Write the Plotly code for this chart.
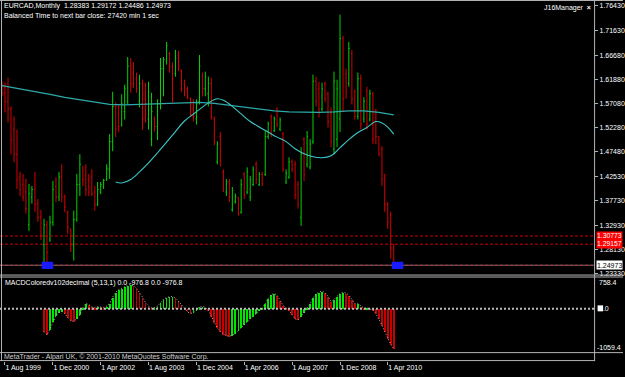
import pandas as pd
import plotly.graph_objects as go

W, H = 625, 377

# ---------------- data ----------------
bar_dates = pd.date_range("1999-07-01", periods=132, freq="MS")
opens = [1.600, 1.592, 1.575, 1.560, 1.520, 1.470, 1.425, 1.410, 1.395, 1.330, 1.385, 1.400,
         1.372, 1.345, 1.290, 1.330, 1.300, 1.335, 1.405, 1.385, 1.425, 1.385, 1.355, 1.322,
         1.290, 1.340, 1.410, 1.446, 1.430, 1.420, 1.425, 1.395, 1.370, 1.395, 1.405, 1.420,
         1.440, 1.495, 1.565, 1.550, 1.528, 1.555, 1.575, 1.645, 1.630, 1.620, 1.575, 1.610,
         1.580, 1.540, 1.500, 1.540, 1.525, 1.570, 1.640, 1.655, 1.670, 1.645, 1.630, 1.665,
         1.635, 1.610, 1.600, 1.580, 1.560, 1.540, 1.575, 1.625, 1.600, 1.590, 1.610, 1.540,
         1.455, 1.505, 1.435, 1.395, 1.415, 1.360, 1.376, 1.384, 1.355, 1.430, 1.395, 1.385,
         1.410, 1.450, 1.410, 1.430, 1.430, 1.505, 1.545, 1.517, 1.560, 1.520, 1.510, 1.415,
         1.425, 1.455, 1.450, 1.410, 1.345, 1.500, 1.450, 1.445, 1.495, 1.615, 1.600, 1.560,
         1.610, 1.590, 1.550, 1.480, 1.500, 1.540, 1.700, 1.630, 1.610, 1.670, 1.595, 1.545,
         1.620, 1.540, 1.595, 1.540, 1.590, 1.555, 1.505, 1.480, 1.430, 1.372, 1.350, 1.28383]
highs = [1.615, 1.612, 1.622, 1.565, 1.545, 1.519, 1.435, 1.431, 1.421, 1.411, 1.407, 1.435,
         1.381, 1.360, 1.342, 1.338, 1.348, 1.417, 1.425, 1.435, 1.450, 1.390, 1.358, 1.322,
         1.358, 1.431, 1.470, 1.446, 1.450, 1.431, 1.440, 1.407, 1.415, 1.415, 1.421, 1.450,
         1.510, 1.594, 1.573, 1.569, 1.589, 1.608, 1.663, 1.661, 1.653, 1.632, 1.628, 1.618,
         1.612, 1.614, 1.592, 1.545, 1.579, 1.661, 1.663, 1.693, 1.673, 1.652, 1.677, 1.675,
         1.638, 1.618, 1.604, 1.583, 1.579, 1.579, 1.667, 1.632, 1.634, 1.624, 1.622, 1.545,
         1.496, 1.514, 1.440, 1.421, 1.421, 1.405, 1.392, 1.385, 1.421, 1.435, 1.444, 1.427,
         1.446, 1.456, 1.435, 1.435, 1.516, 1.535, 1.549, 1.545, 1.563, 1.543, 1.514, 1.440,
         1.464, 1.460, 1.456, 1.417, 1.484, 1.504, 1.516, 1.500, 1.628, 1.624, 1.614, 1.612,
         1.614, 1.594, 1.563, 1.634, 1.618, 1.747, 1.705, 1.640, 1.693, 1.677, 1.598, 1.632,
         1.628, 1.583, 1.604, 1.598, 1.594, 1.560, 1.506, 1.486, 1.431, 1.375, 1.356, 1.29172]
lows = [1.585, 1.553, 1.533, 1.470, 1.454, 1.401, 1.387, 1.377, 1.352, 1.318, 1.372, 1.356,
        1.336, 1.300, 1.249, 1.249, 1.296, 1.328, 1.375, 1.377, 1.375, 1.355, 1.312, 1.276,
        1.259, 1.336, 1.387, 1.407, 1.387, 1.387, 1.387, 1.358, 1.367, 1.391, 1.401, 1.417,
        1.421, 1.476, 1.504, 1.514, 1.525, 1.539, 1.569, 1.592, 1.602, 1.592, 1.563, 1.519,
        1.533, 1.519, 1.486, 1.515, 1.498, 1.559, 1.585, 1.648, 1.632, 1.573, 1.624, 1.635,
        1.594, 1.585, 1.579, 1.545, 1.535, 1.529, 1.569, 1.585, 1.585, 1.565, 1.539, 1.488,
        1.450, 1.446, 1.395, 1.387, 1.375, 1.356, 1.372, 1.348, 1.352, 1.381, 1.391, 1.377,
        1.407, 1.411, 1.407, 1.407, 1.427, 1.500, 1.504, 1.514, 1.524, 1.516, 1.435, 1.411,
        1.421, 1.435, 1.381, 1.362, 1.328, 1.417, 1.444, 1.440, 1.490, 1.565, 1.543, 1.555,
        1.573, 1.523, 1.484, 1.470, 1.484, 1.514, 1.555, 1.580, 1.604, 1.569, 1.539, 1.539,
        1.519, 1.533, 1.519, 1.535, 1.490, 1.490, 1.466, 1.407, 1.356, 1.322, 1.263, 1.24486]
closes = [1.592, 1.575, 1.560, 1.498, 1.470, 1.420, 1.400, 1.385, 1.362, 1.392, 1.400, 1.370,
          1.345, 1.310, 1.330, 1.275, 1.335, 1.400, 1.385, 1.425, 1.385, 1.365, 1.325, 1.290,
          1.340, 1.410, 1.450, 1.420, 1.400, 1.395, 1.392, 1.370, 1.400, 1.410, 1.418, 1.442,
          1.495, 1.565, 1.520, 1.525, 1.570, 1.600, 1.645, 1.610, 1.610, 1.600, 1.610, 1.540,
          1.550, 1.570, 1.555, 1.525, 1.570, 1.640, 1.658, 1.685, 1.645, 1.590, 1.660, 1.645,
          1.600, 1.595, 1.585, 1.550, 1.545, 1.570, 1.645, 1.600, 1.625, 1.610, 1.545, 1.495,
          1.490, 1.455, 1.400, 1.415, 1.385, 1.398, 1.386, 1.352, 1.410, 1.390, 1.435, 1.420,
          1.440, 1.420, 1.430, 1.412, 1.505, 1.530, 1.510, 1.540, 1.530, 1.538, 1.440, 1.432,
          1.455, 1.440, 1.390, 1.370, 1.470, 1.430, 1.505, 1.490, 1.615, 1.575, 1.560, 1.600,
          1.580, 1.535, 1.495, 1.615, 1.600, 1.700, 1.580, 1.595, 1.680, 1.580, 1.545, 1.620,
          1.530, 1.575, 1.530, 1.590, 1.500, 1.505, 1.470, 1.420, 1.370, 1.335, 1.284, 1.24973]

macd_dates = pd.date_range("2000-09-01", periods=118, freq="MS")
macd_values = [-560, -640, -500, -320, -170, -90, -60, -120, -220, -290, -308, -250,
               -150, 20, 128, 100, 40, 30, 50, 40, 30, 60, 130, 280,
               400, 460, 500, 540, 570, 589, 560, 500, 400, 280, 150, 60,
               20, 30, 60, 150, 230, 270, 290, 298, 260, 190, 100, 10,
               -80, -114, -100, -30, 40, 56, 30, -40, -180, -330, -470, -560,
               -620, -660, -671, -650, -600, -530, -460, -390, -320, -250, -180, -110,
               -50, 20, 120, 250, 340, 371, 330, 200, 80, 20, -40, -150,
               -250, -276, -200, -100, 20, 120, 260, 360, 400, 427, 390, 300,
               177, 220, 300, 370, 395, 380, 330, 230, 120, 128, 60, 10,
               20, -10, -30, -120, -250, -400, -560, -720, -870, -976.8]

ma_long_dates = ["1999-07-01", "2000-01-01", "2000-06-01", "2000-11-01", "2001-04-01",
                 "2001-09-01", "2002-02-01", "2002-07-01", "2002-12-01", "2003-05-01",
                 "2003-10-01", "2004-03-01", "2004-08-01", "2005-01-01", "2005-06-01",
                 "2005-11-01", "2006-04-01", "2006-09-01", "2007-02-01", "2007-07-01",
                 "2007-12-01", "2008-05-01", "2008-10-01", "2009-03-01", "2009-08-01",
                 "2010-01-01", "2010-06-01"]
ma_long_values = [1.606, 1.600, 1.594, 1.589, 1.583, 1.578, 1.573, 1.569, 1.568, 1.569,
                  1.570, 1.571, 1.573, 1.573, 1.571, 1.567, 1.563, 1.559, 1.556, 1.554,
                  1.553, 1.553, 1.554, 1.556, 1.556, 1.553, 1.548]

ma_short_dates = ["2002-09-01", "2002-11-01", "2003-02-01", "2003-05-01", "2003-08-01",
                  "2003-11-01", "2004-02-01", "2004-05-01", "2004-08-01", "2004-11-01",
                  "2005-01-01", "2005-04-01", "2005-07-01", "2005-09-01", "2005-12-01",
                  "2006-03-01", "2006-06-01", "2006-09-01", "2006-12-01", "2007-03-01",
                  "2007-06-01", "2007-09-01", "2007-12-01", "2008-03-01", "2008-06-01",
                  "2008-09-01", "2008-12-01", "2009-03-01", "2009-06-01", "2009-09-01",
                  "2009-12-01", "2010-02-01", "2010-04-01", "2010-06-01"]
ma_short_values = [1.415, 1.413, 1.420, 1.435, 1.453, 1.473, 1.494, 1.515, 1.536, 1.550,
                   1.559, 1.572, 1.580, 1.577, 1.565, 1.550, 1.535, 1.524, 1.514, 1.504,
                   1.495, 1.481, 1.471, 1.465, 1.463, 1.467, 1.483, 1.499, 1.513, 1.523,
                   1.535, 1.532, 1.524, 1.510]

price_ticks = [1.76430, 1.71630, 1.66680, 1.61880, 1.57080, 1.52280,
               1.47480, 1.42530, 1.37730, 1.32930, 1.28130, 1.23330]
price_tick_labels = ["%.5f" % v for v in price_ticks]
time_ticks = pd.date_range("1999-08-01", "2010-04-01", freq="16MS")
time_tick_labels = ["1 " + d.strftime("%b %Y") for d in time_ticks]

level_prices = [1.30773, 1.29157]
bid_price = 1.24973
low_mark_dates = ["2000-10-06", "2010-07-10"]
low_mark_prices = [1.2490, 1.2490]
macd_scale = [758.4, 0.0, -1059.4]

header1 = "EURCAD,Monthly  1.28383 1.29172 1.24486 1.24973"
header2 = "Balanced Time to next bar close: 27420 min 1 sec"
macd_title = "MACDColoredv102decimal (5,13,1) 0.0 -976.8 0.0 -976.8"
copyright_text = "MetaTrader - Alpari UK, \u00a9 2001-2010 MetaQuotes Software Corp."

# ---------------- helpers ----------------
def px(x):
    return x / W

def py(y):
    return 1 - y / H

FONT = "Liberation Sans, Arial, sans-serif"
GRAY = "#b4b4b4"
day_per_px = 30.4375 / 3.0
t0 = pd.Timestamp("1999-08-01")
x_start = t0 - pd.Timedelta(days=5 * day_per_px)
x_end = x_start + pd.Timedelta(days=596 * day_per_px)

fig = go.Figure()

fig.add_trace(go.Ohlc(
    x=bar_dates, open=opens, high=highs, low=lows, close=closes,
    increasing=dict(line=dict(color="#00d400", width=1)),
    decreasing=dict(line=dict(color="#d80000", width=1)),
    tickwidth=0.35, hoverinfo="skip", xaxis="x", yaxis="y"))

fig.add_trace(go.Scatter(x=ma_long_dates, y=ma_long_values, mode="lines",
                         line=dict(color="#2fa8a8", width=1.3), hoverinfo="skip"))
fig.add_trace(go.Scatter(x=ma_short_dates, y=ma_short_values, mode="lines",
                         line=dict(color="#3cc6c6", width=1.1, shape="spline"), hoverinfo="skip"))

macd_colors = []
for i, v in enumerate(macd_values):
    prev = macd_values[i - 1] if i else float("inf")
    macd_colors.append("#00e600" if v >= prev else "#c80000")

fig.add_trace(go.Bar(x=macd_dates, y=macd_values, marker=dict(color=macd_colors, line=dict(width=0)),
                     width=day_per_px * 86400000 * 0.8, xaxis="x", yaxis="y2", hoverinfo="skip"))
fig.add_trace(go.Scatter(x=macd_dates, y=macd_values, mode="lines",
                         line=dict(color="#b8b8b8", width=1, dash="1px,2px"),
                         xaxis="x", yaxis="y2", hoverinfo="skip"))

shapes = []
# horizontal level lines
for p in level_prices:
    shapes.append(dict(type="line", xref="paper", yref="y", x0=0, x1=px(596), y0=p, y1=p,
                       line=dict(color="#d00000", width=1, dash="3px,2px")))
shapes.append(dict(type="line", xref="paper", yref="y", x0=0, x1=px(596), y0=bid_price, y1=bid_price,
                   line=dict(color="#707070", width=1)))
shapes.append(dict(type="line", xref="paper", yref="y", x0=0, x1=px(596), y0=bid_price, y1=bid_price,
                   line=dict(color="#c03040", width=1, dash="3px,2px")))
# blue low markers
for d, p in zip(low_mark_dates, low_mark_prices):
    dt = pd.Timestamp(d)
    shapes.append(dict(type="rect", xref="x", yref="y",
                       x0=dt - pd.Timedelta(days=58), x1=dt + pd.Timedelta(days=58),
                       y0=p - 0.0065, y1=p + 0.0075, fillcolor="#1a1aff", line=dict(width=0)))
# MACD zero line
shapes.append(dict(type="line", xref="paper", yref="y2", x0=0, x1=px(596), y0=0, y1=0,
                   line=dict(color="#bdbdbd", width=2, dash="2px,2px")))
# frame
def hl(y, x0=0, x1=W, color=GRAY):
    shapes.append(dict(type="line", xref="paper", yref="paper", x0=px(x0), x1=px(x1),
                       y0=py(y), y1=py(y), line=dict(color=color, width=1)))
def vl(x, y0, y1, color=GRAY):
    shapes.append(dict(type="line", xref="paper", yref="paper", x0=px(x), x1=px(x),
                       y0=py(y0), y1=py(y1), line=dict(color=color, width=1)))
hl(0.5)
hl(276.5)
hl(278.5)
hl(354.5)
hl(362.5, 0, 597)
vl(1.5, 0, 363)
vl(596.5, 0, 363)
# white blob over zero label
shapes.append(dict(type="rect", xref="paper", yref="paper", x0=px(599.5), x1=px(605),
                   y0=py(313), y1=py(307), fillcolor="#ffffff", line=dict(width=0)))

ann = []
def text(x, y, s, color="#ffffff", xanchor="left", yanchor="middle", size=7, bg=None,
         yref="paper", height=None):
    d = dict(x=px(x), y=(py(y) if yref == "paper" else y), xref="paper", yref=yref, text=s,
             showarrow=False, xanchor=xanchor, yanchor=yanchor,
             font=dict(family=FONT, size=size, color=color), borderpad=0)
    if bg:
        d["bgcolor"] = bg
    if height:
        d["height"] = height
    ann.append(d)

text(3, 6.5, header1)
text(3, 15.5, header2)
text(594, 8, "J16Manager  <b>\u00d7</b>", xanchor="right")
text(4, 285, macd_title)
text(3, 358.5, copyright_text, color="#d0d0d0")
text(598, level_prices[0], "%.5f" % level_prices[0], bg="#ff0000", yref="y", size=6.8, height=7.5)
text(598, level_prices[1], "%.5f" % level_prices[1], bg="#ff0000", yref="y", size=6.8, height=7.5)
text(598, bid_price, "%.5f" % bid_price, color="#000000", bg="#ffffff", yref="y", height=8)
text(600, macd_scale[0], "%.1f" % macd_scale[0], yref="y2", yanchor="top")
text(600, macd_scale[1], "%.1f" % macd_scale[1], yref="y2")
text(598, macd_scale[2], "%.1f" % macd_scale[2], yref="y2", yanchor="bottom")

fig.update_layout(
    width=W, height=H, autosize=False,
    margin=dict(l=0, r=0, t=0, b=0),
    paper_bgcolor="#000000", plot_bgcolor="#000000",
    showlegend=False, bargap=0,
    shapes=shapes, annotations=ann,
    xaxis=dict(type="date", domain=[0, px(596)], range=[x_start, x_end],
               anchor="free", position=py(363),
               tickvals=time_ticks, ticktext=time_tick_labels,
               ticks="outside", ticklen=3, tickcolor=GRAY, ticklabelposition="outside right",
               tickfont=dict(family=FONT, size=7, color="#ffffff"),
               showgrid=False, zeroline=False, showline=False,
               rangeslider=dict(visible=False)),
    yaxis=dict(domain=[py(276), 1], range=[1.2313, 1.7761], side="right", anchor="x",
               tickvals=price_ticks, ticktext=price_tick_labels,
               ticks="outside", ticklen=3, tickcolor=GRAY,
               tickfont=dict(family=FONT, size=7, color="#ffffff"),
               showgrid=False, zeroline=False, showline=False),
    yaxis2=dict(domain=[py(354), py(279)], range=[macd_scale[2], macd_scale[0]], side="right",
                anchor="x", showticklabels=False, ticks="",
                showgrid=False, zeroline=False, showline=False),
)

fig.write_html("out.html")
